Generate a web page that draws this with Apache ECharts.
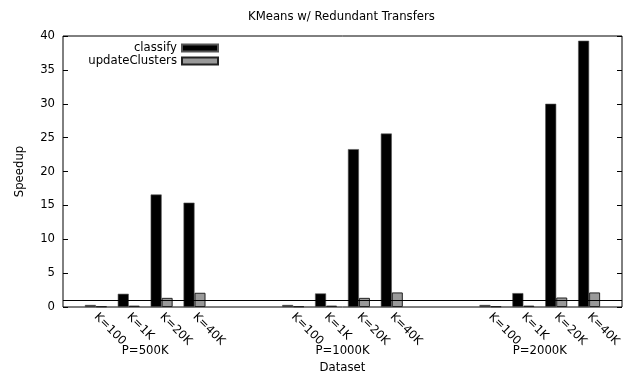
<!DOCTYPE html>
<html><head><meta charset="utf-8">
<script src="https://cdn.jsdelivr.net/npm/echarts@6/dist/echarts.min.js"></script>
<style>html,body{margin:0;padding:0;background:#fff}#c{width:626px;height:372px}</style>
</head><body><div id="c"></div>
<script>
const chartTitle = 'KMeans w/ Redundant Transfers';
const kLabels = ['K=100', 'K=1K', 'K=20K', 'K=40K'];
const groups = ['P=500K', 'P=1000K', 'P=2000K'];
const seriesNames = ['classify', 'updateClusters'];
const classifyP500 = [0.3, 1.95, 16.6, 15.4];
const classifyP1000 = [0.3, 2.0, 23.3, 25.6];
const classifyP2000 = [0.3, 2.05, 30.0, 39.3];
const updateP500 = [0.1, 0.2, 1.35, 2.1];
const updateP1000 = [0.1, 0.2, 1.35, 2.15];
const updateP2000 = [0.1, 0.2, 1.4, 2.15];
const yMin = 0, yMax = 40, yStep = 5;
const referenceLine = 1;

const FONT = 'DejaVu Sans';
const FS = 11.7;
const slotsPerGroup = kLabels.length + 2;
function build(arrs) {
  const out = [];
  arrs.forEach((a, g) => a.forEach((v, k) => out.push([g * slotsPerGroup + k, v])));
  return out;
}
const classifyData = build([classifyP500, classifyP1000, classifyP2000]);
const updateData = build([updateP500, updateP1000, updateP2000]);
const kPositions = classifyData.map(d => d[0]);
const groupCenters = groups.map((_, g) => g * slotsPerGroup + (kLabels.length - 1) / 2);
const xMin = -1, xMax = groups.length * slotsPerGroup - 2;

const chart = echarts.init(document.getElementById('c'), null, {renderer: 'canvas'});
chart.setOption({
  animation: false,
  backgroundColor: '#fff',
  textStyle: {fontFamily: FONT},
  title: {
    text: chartTitle, left: 248, top: 11, padding: 0,
    textStyle: {fontFamily: FONT, fontSize: FS, fontWeight: 'normal', color: '#000'}
  },
  legend: {
    orient: 'vertical', align: 'right', right: 407, top: 42, padding: 0,
    itemWidth: 36, itemHeight: 7, itemGap: 1, icon: 'rect',
    textStyle: {fontFamily: FONT, fontSize: FS, color: '#000'},
    data: seriesNames
  },
  grid: {
    left: 63, right: 4, top: 36, bottom: 65, containLabel: false,
    outerBoundsMode: 'none',
    show: true, borderColor: '#000', borderWidth: 1, backgroundColor: 'transparent'
  },
  xAxis: [{
    type: 'value', min: xMin, max: xMax, position: 'bottom',
    axisLine: {show: false, onZero: false}, axisTick: {show: false}, splitLine: {show: false},
    axisLabel: {
      customValues: kPositions, rotate: -45, margin: 8,
      fontFamily: FONT, fontSize: FS, color: '#000',
      formatter: v => kLabels[Math.round(v) % slotsPerGroup] || ''
    }
  }, {
    type: 'value', min: xMin, max: xMax, position: 'bottom', offset: 0,
    axisLine: {show: false, onZero: false}, axisTick: {show: false}, splitLine: {show: false},
    axisLabel: {
      customValues: groupCenters, margin: 38,
      fontFamily: FONT, fontSize: FS, color: '#000',
      formatter: v => groups[Math.round((v - (kLabels.length - 1) / 2) / slotsPerGroup)] || ''
    },
    name: 'Dataset', nameLocation: 'middle', nameGap: 55,
    nameTextStyle: {fontFamily: FONT, fontSize: FS, color: '#000'}
  }],
  yAxis: [{
    type: 'value', min: yMin, max: yMax, interval: yStep, position: 'left',
    axisLine: {show: false, onZero: false}, splitLine: {show: false},
    axisTick: {show: true, inside: true, length: 5, lineStyle: {color: '#000'}},
    axisLabel: {margin: 8, fontFamily: FONT, fontSize: FS, color: '#000'},
    name: 'Speedup', nameLocation: 'middle', nameGap: 37, nameRotate: 90,
    nameTextStyle: {fontFamily: FONT, fontSize: FS, color: '#000'}
  }, {
    type: 'value', min: yMin, max: yMax, interval: yStep, position: 'right',
    axisLine: {show: false, onZero: false}, splitLine: {show: false},
    axisTick: {show: true, inside: true, length: 5, lineStyle: {color: '#000'}},
    axisLabel: {show: false}
  }],
  series: [{
    name: seriesNames[0], type: 'bar', xAxisIndex: 0, yAxisIndex: 0,
    data: classifyData, barWidth: 11, barGap: '0%',
    itemStyle: {color: '#000', borderColor: '#555', borderWidth: 0.6},
    markLine: {
      silent: true, symbol: ['none', 'none'], label: {show: false},
      lineStyle: {color: '#000', width: 1.2, type: 'solid'},
      data: [{yAxis: referenceLine}]
    }
  }, {
    name: seriesNames[1], type: 'bar', xAxisIndex: 0, yAxisIndex: 0,
    data: updateData, barWidth: 11, barGap: '0%',
    itemStyle: {color: '#999', borderColor: '#222', borderWidth: 1}
  }]
});
</script></body></html>
